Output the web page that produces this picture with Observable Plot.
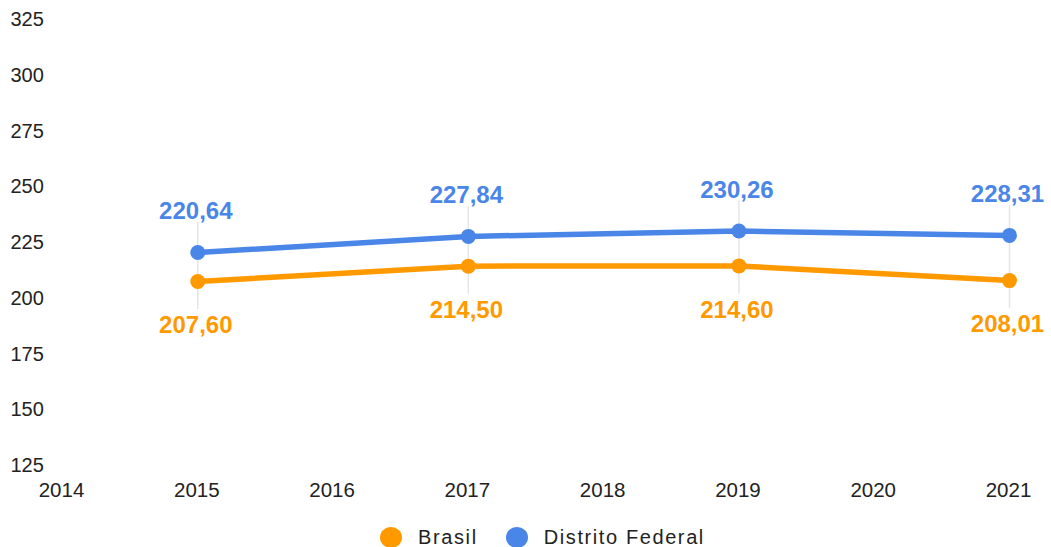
<!DOCTYPE html>
<html>
<head>
<meta charset="utf-8">
<script src="https://cdn.jsdelivr.net/npm/d3@7"></script>
<script src="https://cdn.jsdelivr.net/npm/@observablehq/plot@0.6"></script>
<style>
  html, body { margin: 0; padding: 0; background: #fff; }
  #chart svg { display: block; }
  #legend { display: flex; justify-content: center; align-items: center; height: 26px; padding-top: 4px; font-family: "Liberation Sans", Arial, sans-serif; font-size: 20px; color: #222; letter-spacing: 1.6px; margin-left: 34px; }
  .item { display: flex; align-items: center; margin: 0 14px; }
  .dot { width: 22px; height: 21px; border-radius: 50%; margin-right: 16px; }
</style>
</head>
<body>
<div id="chart"></div>
<div id="legend"></div>
<script>
const years = [2015, 2017, 2019, 2021];
const brasil = [207.60, 214.50, 214.60, 208.01];
const distrito = [220.64, 227.84, 230.26, 228.31];
const seriesNames = ["Brasil", "Distrito Federal"];
const seriesColors = ["#FF9900", "#4A86E8"];
const xTicks = [2014, 2015, 2016, 2017, 2018, 2019, 2020, 2021];
const yTicks = [125, 150, 175, 200, 225, 250, 275, 300, 325];

const rows = [];
years.forEach((y, i) => {
  rows.push({year: y, value: brasil[i], series: seriesNames[0]});
  rows.push({year: y, value: distrito[i], series: seriesNames[1]});
});
const stems = years.map((y, i) => ({year: y, top: distrito[i], bottom: brasil[i]}));
const fmt = v => d3.format(".2f")(v).replace(".", ",");

const chart = Plot.plot({
  width: 1051,
  height: 520,
  marginLeft: 62,
  marginRight: 42,
  marginTop: 19.5,
  marginBottom: 55,
  style: {fontFamily: "'Liberation Sans', Arial, sans-serif", background: "#fff"},
  x: {domain: [2014, 2021]},
  y: {domain: [125, 325]},
  color: {domain: seriesNames, range: seriesColors},
  marks: [
    Plot.axisY({ticks: yTicks, tickSize: 0, tickPadding: 0, textAnchor: "start", dx: -52, fontSize: 20, label: null, fill: "#222", style: {letterSpacing: "2.2px"}}),
    Plot.axisX({ticks: xTicks, tickSize: 0, tickPadding: 17, tickFormat: d => String(d), fontSize: 20.5, dx: -1, label: null, fill: "#222", style: {letterSpacing: "2.6px"}}),
    Plot.ruleX(stems, {x: "year", y1: "top", y2: "bottom", stroke: "#e6e6e6", strokeWidth: 1.5, insetTop: -30, insetBottom: -28}),
    Plot.line(rows, {x: "year", y: "value", z: "series", stroke: "series", strokeWidth: 5.5}),
    Plot.dot(rows, {x: "year", y: "value", fill: "series", r: 7.5}),
    Plot.text(rows.filter(d => d.series === seriesNames[1]), {x: "year", y: "value", text: d => fmt(d.value), fill: seriesColors[1], fontSize: 24, fontWeight: "bold", dy: -41, dx: -2, style: {letterSpacing: "2.8px"}}),
    Plot.text(rows.filter(d => d.series === seriesNames[0]), {x: "year", y: "value", text: d => fmt(d.value), fill: seriesColors[0], fontSize: 24, fontWeight: "bold", dy: 44, dx: -2, style: {letterSpacing: "2.8px"}})
  ]
});
document.getElementById("chart").appendChild(chart);

const legend = document.getElementById("legend");
seriesNames.forEach((name, i) => {
  const item = document.createElement("div");
  item.className = "item";
  const dot = document.createElement("span");
  dot.className = "dot";
  dot.style.background = seriesColors[i];
  const label = document.createElement("span");
  label.textContent = name;
  item.appendChild(dot);
  item.appendChild(label);
  legend.appendChild(item);
});
</script>
</body>
</html>
